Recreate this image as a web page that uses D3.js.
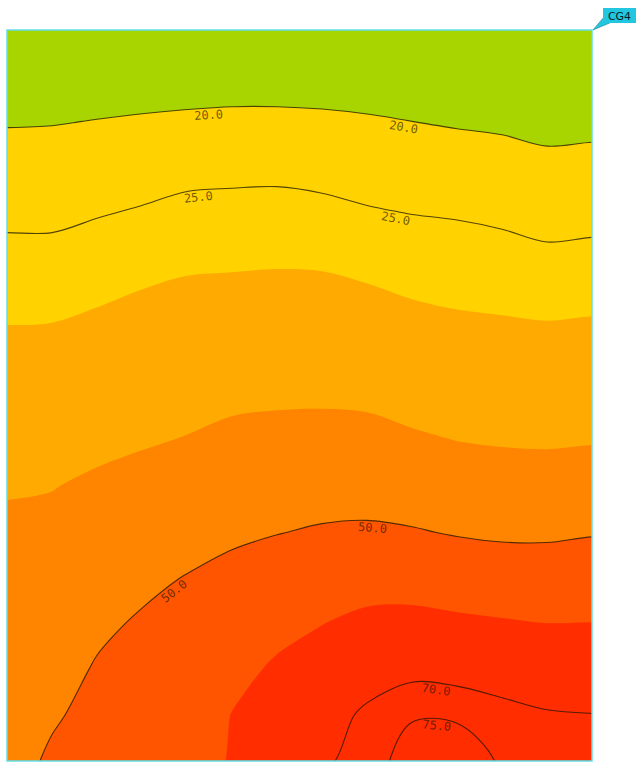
<!DOCTYPE html>
<html><head><meta charset="utf-8">
<script src="https://cdn.jsdelivr.net/npm/d3@7"></script>
<style>html,body{margin:0;padding:0;background:#fff;}svg{display:block;}</style>
</head><body>
<svg id="chart" width="636" height="762"></svg>
<script>
// ---- data: field values sampled on a regular grid ----
// each array = one grid column (x index 0..13), values from top (row -1) to bottom (row 17)
const colX0  = [13.3,15.4,17.6,19.7,21.9,24.0,26.3,28.8,31.4,34.1,36.8,39.6,41.0,42.2,43.4,44.6,45.8,47.0,48.2];
const colX1  = [13.5,15.6,17.7,19.8,21.9,24.0,26.3,28.9,31.6,34.4,37.1,39.8,41.8,43.6,45.5,47.3,49.2,51.1,53.0];
const colX2  = [13.3,15.6,17.9,20.1,22.4,24.7,27.2,29.8,32.7,35.6,38.4,41.2,43.7,46.2,48.7,50.6,52.0,53.4,55.0];
const colX3  = [13.2,15.6,18.0,20.4,22.9,25.4,28.1,30.9,33.7,36.6,39.4,42.4,45.5,48.5,50.8,52.4,53.9,55.4,57.0];
const colX4  = [13.0,15.3,18.0,20.7,23.5,26.3,28.9,31.8,34.7,37.6,40.4,43.8,47.3,50.3,52.0,53.7,55.3,57.0,58.5];
const colX5  = [12.5,15.2,18.1,20.9,23.7,26.5,29.1,32.1,35.3,38.5,41.8,45.3,48.8,52.0,55.0,58.0,60.2,60.5,61.0];
const colX6  = [12.5,15.2,18.1,20.9,23.8,26.6,29.3,32.3,35.6,38.9,42.3,46.1,49.8,53.9,58.0,61.0,63.0,65.0,67.0];
const colX7  = [12.7,15.4,18.1,20.7,23.4,26.2,29.1,32.3,35.6,38.9,42.7,46.7,50.8,55.3,59.9,63.2,67.0,69.8,71.0];
const colX8  = [13.0,15.5,17.9,20.4,22.9,25.4,28.3,31.4,35.0,38.6,42.4,46.7,51.2,56.7,62.0,66.8,71.2,70.5,71.5];
const colX9  = [12.8,15.2,17.6,20.0,22.4,24.9,27.5,30.3,33.8,37.3,41.1,45.9,50.6,56.5,62.5,68.4,74.2,79.5,80.0];
const colX10 = [12.8,15.0,17.2,19.6,22.1,24.6,27.1,29.6,33.0,36.5,40.0,44.7,49.5,55.4,61.6,67.8,73.9,80.2,80.5];
const colX11 = [12.5,14.6,16.9,19.3,21.7,24.1,26.6,29.2,32.5,36.0,39.4,44.1,48.8,54.6,60.8,66.8,72.0,74.0,75.0];
const colX12 = [12.3,14.2,16.4,18.7,21.1,23.4,25.9,28.8,32.1,35.7,39.2,43.8,48.8,54.3,60.1,65.6,70.6,73.5,75.0];
const colX13 = [12.3,14.3,16.6,18.9,21.3,23.6,26.2,29.1,32.5,36.1,39.6,44.4,49.5,54.8,60.2,65.3,70.2,73.0,74.0];

const bandThresholds = [20, 30, 40, 50, 60];
const bandColors = ["#a8d400", "#ffd200", "#ffaa00", "#ff8400", "#ff5500", "#ff2d00"];
const lineLevels = [20, 25, 50, 70, 75];
const labelLevels = [20, 20, 25, 25, 50, 50, 70, 75];
const labelXs = [4.47, 8.84, 4.24, 8.67, 3.62, 8.13, 9.56, 9.56];
const seriesName = "CG4";

// ---- layout ----
const W = 636, H = 762;
const plot = {left: 7, top: 30, right: 592, bottom: 761};
const x = d3.scaleLinear().domain([0, 13]).range([plot.left, plot.right]);
const y = d3.scaleLinear().domain([0, 16]).range([plot.top, plot.bottom]);

const inner = [colX0,colX1,colX2,colX3,colX4,colX5,colX6,colX7,colX8,colX9,colX10,colX11,colX12,colX13];
const cols = [inner[0], ...inner, inner[inner.length - 1]]; // edge padding
const nx = cols.length, ny = colX0.length;
const values = new Array(nx * ny);
for (let j = 0; j < ny; j++) for (let i = 0; i < nx; i++) values[j * nx + i] = cols[i][j];

const contours = d3.contours().size([nx, ny]);
const curve = d3.line().curve(d3.curveCatmullRomClosed.alpha(0.5));
function mpPath(mp) {
  return mp.coordinates.map(poly => poly.map(ring => {
    const pts = ring.slice(0, -1).map(([gx, gy]) => [x(gx - 1.5), y(gy - 1.5)]);
    return curve(pts);
  }).join("")).join("");
}

const svg = d3.select("#chart");
svg.append("defs").append("clipPath").attr("id", "clip")
  .append("rect").attr("x", plot.left).attr("y", plot.top)
  .attr("width", plot.right - plot.left).attr("height", plot.bottom - plot.top);

const g = svg.append("g").attr("clip-path", "url(#clip)");
g.append("rect").attr("x", plot.left).attr("y", plot.top)
  .attr("width", plot.right - plot.left).attr("height", plot.bottom - plot.top)
  .attr("fill", bandColors[0]);

bandThresholds.forEach((t, k) => {
  g.append("path").attr("d", mpPath(contours.contour(values, t)))
    .attr("fill", bandColors[k + 1]).attr("fill-rule", "evenodd");
});

const linePaths = {};
lineLevels.forEach(t => {
  linePaths[t] = g.append("path").attr("d", mpPath(contours.contour(values, t)))
    .attr("fill", "none").attr("stroke", "#1a1400").attr("stroke-opacity", 0.75)
    .attr("stroke-width", 1.1);
});

// labels placed on the contour lines
const lg = svg.append("g").attr("clip-path", "url(#clip)");
labelLevels.forEach((lev, k) => {
  const node = linePaths[lev].node();
  const L = node.getTotalLength();
  const tx = x(labelXs[k]);
  let best = null, bestD = Infinity, bestS = 0;
  for (let s = 0; s <= L; s += 0.5) {
    const p = node.getPointAtLength(s);
    if (p.x < plot.left + 3 || p.x > plot.right - 3 || p.y < plot.top + 3 || p.y > plot.bottom - 3) continue;
    const d = Math.abs(p.x - tx);
    if (d < bestD) { bestD = d; best = p; bestS = s; }
  }
  if (!best) return;
  const p1 = node.getPointAtLength(Math.max(0, bestS - 10));
  const p2 = node.getPointAtLength(Math.min(L, bestS + 10));
  let ang = Math.atan2(p2.y - p1.y, p2.x - p1.x);
  if (ang > Math.PI / 2) ang -= Math.PI;
  if (ang < -Math.PI / 2) ang += Math.PI;
  const off = 7;
  const cx = best.x - Math.sin(ang) * off, cy = best.y + Math.cos(ang) * off;
  lg.append("text")
    .attr("transform", `translate(${cx},${cy}) rotate(${ang * 180 / Math.PI})`)
    .attr("text-anchor", "middle").attr("dy", "0.35em")
    .attr("font-family", "DejaVu Sans Mono, monospace").attr("font-size", 12)
    .attr("fill", "#1a1400").attr("fill-opacity", 0.65)
    .text(d3.format(".1f")(lev));
});

// border
svg.append("rect").attr("x", plot.left).attr("y", plot.top)
  .attr("width", plot.right - plot.left).attr("height", plot.bottom - plot.top)
  .attr("fill", "none").attr("stroke", "#5fe0e6").attr("stroke-width", 1.5);

// series tag
const tag = svg.append("g");
tag.append("path").attr("d", "M604,17 L612,22 L593,30 Z").attr("fill", "#22c6de")
  .attr("stroke", "#1a7f8e").attr("stroke-width", 0.6);
tag.append("rect").attr("x", 603).attr("y", 8).attr("width", 33).attr("height", 15)
  .attr("fill", "#22c6de");
tag.append("text").attr("x", 619.5).attr("y", 19.5).attr("text-anchor", "middle")
  .attr("font-family", "DejaVu Sans, sans-serif").attr("font-size", 11)
  .attr("fill", "#0d1b2a").text(seriesName);
</script>
</body></html>
